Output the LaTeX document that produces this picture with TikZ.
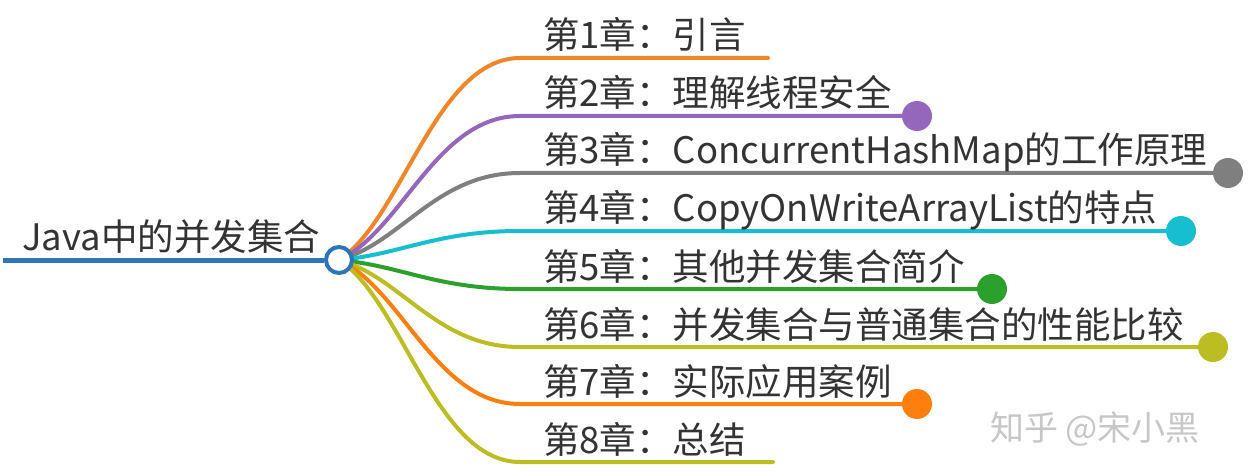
\documentclass[tikz,border=0pt]{standalone}
\usepackage{fontspec}
\newfontfamily\cjk{Noto Sans CJK SC}
\pgfdeclarelayer{bg}
\pgfsetlayers{bg,main}
\definecolor{txt}{HTML}{333333}
\definecolor{rootblue}{HTML}{2E75B6}
\definecolor{cA}{HTML}{F0862A}
\definecolor{cB}{HTML}{9467BD}
\definecolor{cC}{HTML}{7F7F7F}
\definecolor{cD}{HTML}{17BECF}
\definecolor{cE}{HTML}{2CA02C}
\definecolor{cF}{HTML}{BCBD22}
\definecolor{cG}{HTML}{FF7F0E}
\definecolor{cH}{HTML}{BCBD22}
\tikzset{
  lbl/.style={anchor=base west,inner sep=0pt,text=txt,font=\cjk\fontsize{36.5}{40}\selectfont},
  enddot/.style={circle,inner sep=0pt,minimum size=30pt},
  branch/.style={line width=4pt,line cap=round},
  hubstyle/.style={circle,draw=rootblue,fill=white,line width=4pt,minimum size=26pt,inner sep=0pt}
}
\begin{document}
\begin{tikzpicture}[x=1pt,y=-1pt]
\useasboundingbox (0,0) rectangle (1254,476);
\begin{pgfonlayer}{bg}
\fill[white] (0,0) rectangle (1254,476);
\end{pgfonlayer}
\node[hubstyle] (hub) at (339,260) {};
\coordinate (rootstart) at (3,260);
\node[lbl] (root) at (22,250) {Java中的并发集合};
\begin{pgfonlayer}{bg}
\draw[line width=5pt,draw=rootblue] (rootstart) -- (hub.west);
\end{pgfonlayer}
\foreach \i/\y/\col/\ex/\hasdot/\txt in {
  1/58/cA/768/0/{第1章：引言},
  2/116/cB/917/1/{第2章：理解线程安全},
  3/173/cC/1228/1/{第3章：ConcurrentHashMap的工作原理},
  4/231/cD/1181/1/{第4章：CopyOnWriteArrayList的特点},
  5/289/cE/992/1/{第5章：其他并发集合简介},
  6/347/cF/1213/1/{第6章：并发集合与普通集合的性能比较},
  7/404/cG/917/1/{第7章：实际应用案例},
  8/462/cH/773/0/{第8章：总结}}{
  \coordinate (s\i) at (520,\y);
  \node[lbl] (t\i) at (543,{\y-9}) {\txt};
  \ifnum\hasdot=1
    \node[enddot,fill=\col] (e\i) at (\ex,\y) {};
  \else
    \coordinate (e\i) at (\ex,\y);
  \fi
  \pgfmathsetmacro\cy{260+0.2*(\y-260)}
  \begin{pgfonlayer}{bg}
  \draw[branch,draw=\col] (hub.center) .. controls (402,\cy) and (436,\y) .. (s\i) -- (e\i);
  \end{pgfonlayer}
}
\node[anchor=base west,inner sep=0pt,text=black!22,font=\cjk\fontsize{34}{38}\selectfont] (wm) at (990,440) {知乎 @宋小黑};
\end{tikzpicture}
\end{document}
